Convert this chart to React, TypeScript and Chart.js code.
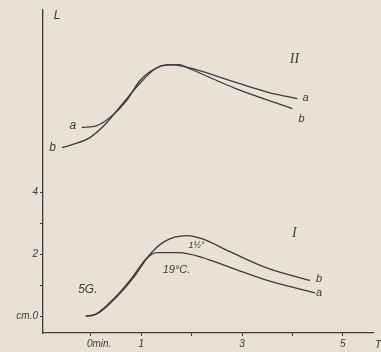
import React, { useEffect, useRef } from "react";
import { Chart, registerables } from "chart.js";

Chart.register(...registerables);

// Curve II a / b (upper group), [time (min), length]
const curveIIa: [number, number][] = [
  [-0.18, 6.1], [0.12, 6.16], [0.38, 6.42], [0.71, 6.97], [0.97, 7.61], [1.27, 8.0],
  [1.56, 8.13], [1.96, 8.03], [2.89, 7.55], [3.54, 7.23], [4.1, 7.03],
];
const curveIIb: [number, number][] = [
  [-0.57, 5.45], [-0.36, 5.55], [-0.02, 5.77], [0.32, 6.26], [0.63, 6.87], [0.97, 7.52],
  [1.23, 7.94], [1.43, 8.1], [1.76, 8.13], [1.96, 8.0], [2.89, 7.35], [3.54, 6.97], [4.0, 6.71],
];
// Curve I a (19°C) / b (1½°)
const curveIa: [number, number][] = [
  [-0.1, 0], [0.04, 0.02], [0.45, 0.55], [0.8, 1.2], [1.1, 1.85], [1.3, 2.05],
  [1.75, 2.05], [2.2, 1.9], [2.8, 1.55], [3.5, 1.15], [4.45, 0.75],
];
const curveIb: [number, number][] = [
  [-0.1, 0], [0.1, 0.05], [0.5, 0.6], [0.85, 1.25], [1.15, 1.95], [1.45, 2.4],
  [1.9, 2.6], [2.2, 2.5], [2.8, 2.05], [3.5, 1.55], [4.35, 1.15],
];

const xTickValues = [0, 1, 2, 3, 4, 5];
const xTickLabels: Record<number, string> = { 0: "      0min.", 1: "1", 3: "3", 5: "5" };
const yTickValues = [0, 1, 2, 3, 4];
const yTickLabels: Record<number, string> = { 0: "cm.0", 2: "2", 4: "4" };

// Annotation texts: [text, x, y, font]
const annotations: [string, number, number, string][] = [
  ["L", -0.67, 9.72, "italic 12px 'Liberation Sans'"],
  ["II", 4.04, 8.32, "italic 14px 'Liberation Serif'"],
  ["a", -0.36, 6.16, "italic 12px 'Liberation Sans'"],
  ["b", -0.76, 5.45, "italic 12px 'Liberation Sans'"],
  ["a", 4.26, 7.06, "italic 11px 'Liberation Sans'"],
  ["b", 4.18, 6.39, "italic 11px 'Liberation Sans'"],
  ["I", 4.04, 2.68, "italic 14px 'Liberation Serif'"],
  ["b", 4.53, 1.19, "italic 11px 'Liberation Sans'"],
  ["a", 4.53, 0.74, "italic 11px 'Liberation Sans'"],
  ["5G.", -0.06, 0.84, "italic 12px 'Liberation Sans'"],
  ["1½°", 2.1, 2.29, "italic 9px 'Liberation Sans'"],
  ["19°C.", 1.7, 1.48, "italic 11px 'Liberation Sans'"],
  ["T", 5.7, -0.93, "italic 11px 'Liberation Sans'"],
];

const INK = "#3f3a35";
const BG = "#e7e1d6";

const textPlugin = {
  id: "texts",
  afterDraw(chart: any) {
    const ctx = chart.ctx;
    const xs = chart.scales.x;
    const ys = chart.scales.y;
    ctx.save();
    ctx.fillStyle = INK;
    ctx.textAlign = "center";
    ctx.textBaseline = "middle";
    for (const [t, x, y, f] of annotations) {
      ctx.font = f;
      ctx.fillText(t, xs.getPixelForValue(x), ys.getPixelForValue(y));
    }
    ctx.restore();
  },
};

export default function App() {
  const ref = useRef<HTMLCanvasElement>(null);
  useEffect(() => {
    if (!ref.current) return;
    const mk = (d: [number, number][]) => ({
      data: d.map(([x, y]) => ({ x, y })),
      borderColor: INK,
      borderWidth: 1.3,
      pointRadius: 0,
      fill: false,
      cubicInterpolationMode: "monotone" as const,
    });
    const chart = new Chart(ref.current, {
      type: "line",
      data: { datasets: [mk(curveIIa), mk(curveIIb), mk(curveIa), mk(curveIb)] },
      options: {
        animation: false,
        responsive: false,
        layout: { padding: { top: 10, right: 8, left: 0, bottom: 0 } },
        plugins: { legend: { display: false }, tooltip: { enabled: false } },
        scales: {
          x: {
            type: "linear",
            min: -0.95,
            max: 5.6,
            afterFit: (s: any) => { s.height = 19; },
            afterBuildTicks: (s: any) => { s.ticks = xTickValues.map((v) => ({ value: v })); },
            border: { display: true, color: INK, width: 1.3 },
            grid: { display: true, drawOnChartArea: false, drawTicks: true, tickLength: 3, color: INK },
            ticks: {
              autoSkip: false,
              maxRotation: 0,
              padding: 2,
              color: INK,
              font: { family: "'Liberation Sans'", style: "italic", size: 10 },
              callback: (v: any) => xTickLabels[v as number] ?? "",
            },
          },
          y: {
            type: "linear",
            min: -0.55,
            max: 9.9,
            afterFit: (s: any) => { s.width = 43; },
            afterBuildTicks: (s: any) => { s.ticks = yTickValues.map((v) => ({ value: v })); },
            border: { display: true, color: INK, width: 1.3 },
            grid: { display: true, drawOnChartArea: false, drawTicks: true, tickLength: 3, color: INK },
            ticks: {
              autoSkip: false,
              padding: 2,
              color: INK,
              font: { family: "'Liberation Sans'", style: "italic", size: 10 },
              callback: (v: any) => yTickLabels[v as number] ?? "",
            },
          },
        },
      },
      plugins: [textPlugin],
    });
    return () => chart.destroy();
  }, []);
  return (
    <div style={{ position: "fixed", left: 0, top: 0, width: 381, height: 352, background: BG }}>
      <canvas ref={ref} width={381} height={352} style={{ display: "block" }} />
    </div>
  );
}
